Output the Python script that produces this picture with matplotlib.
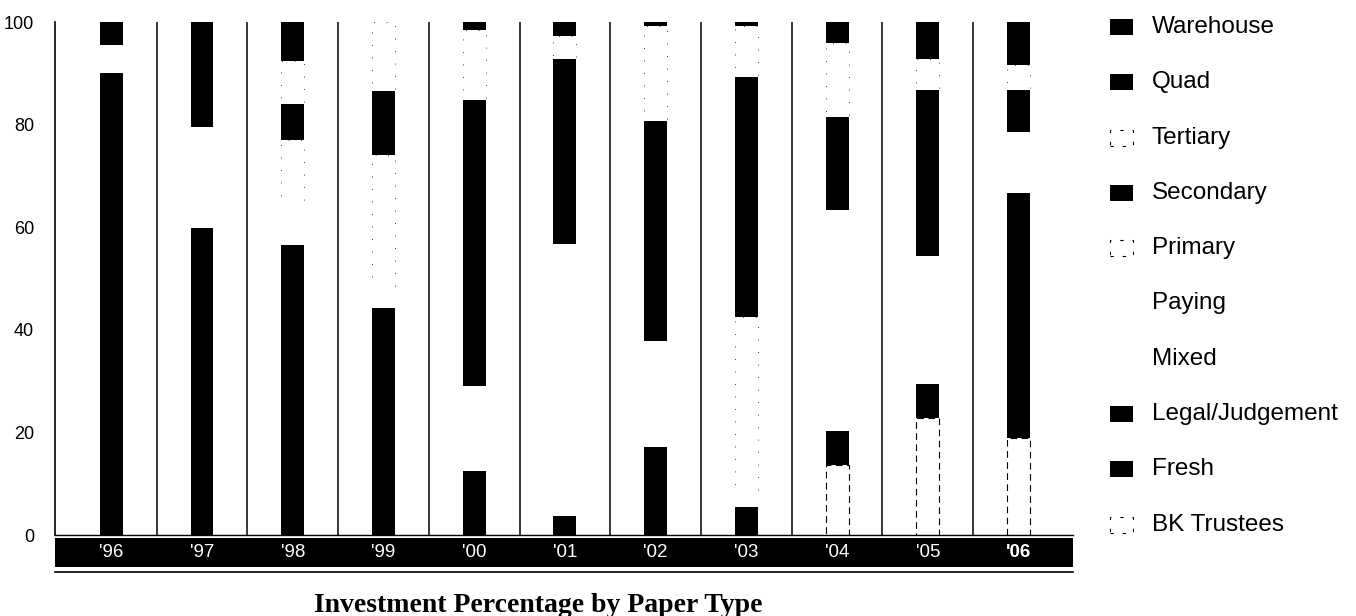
import matplotlib
matplotlib.use("Agg")
import matplotlib.pyplot as plt
from matplotlib.patches import Rectangle
import matplotlib.transforms as mtransforms
import numpy as np

years = ["'96", "'97", "'98", "'99", "'00", "'01", "'02", "'03", "'04", "'05", "'06"]

# stacked bottom -> top
bk_trustees = [0, 0, 0, 0, 0, 0, 0, 0, 13.7, 22.8, 19.0]
fresh       = [90.0, 59.8, 56.6, 44.3, 12.5, 3.7, 17.1, 5.5, 0, 0, 47.7]
legal       = [0, 0, 0, 0, 0, 0, 0, 0, 6.6, 6.6, 0]
mixed       = [0, 19.8, 8.3, 3.9, 16.6, 53.1, 20.8, 2.8, 43.1, 24.9, 11.9]
paying      = [5.5, 0, 0, 0, 0, 0, 0, 0, 0, 0, 0]
primary     = [0, 0, 12.1, 25.8, 0, 0, 0, 34.1, 0, 0, 0]
secondary   = [0, 0, 7.1, 12.5, 55.7, 35.9, 42.8, 46.8, 18.1, 32.5, 8.2]
tertiary    = [0, 0, 8.3, 13.5, 13.6, 4.6, 18.5, 10.0, 14.5, 5.9, 4.8]
quad        = [0, 20.4, 7.6, 0, 0, 2.7, 0, 0, 4.0, 7.3, 0]
warehouse   = [4.5, 0, 0, 0, 1.6, 0, 0.8, 0.8, 0, 0, 8.4]

series_names = ["BK Trustees", "Fresh", "Legal/Judgement", "Mixed", "Paying",
                "Primary", "Secondary", "Tertiary", "Quad", "Warehouse"]
series_vals = [bk_trustees, fresh, legal, mixed, paying,
               primary, secondary, tertiary, quad, warehouse]
# style: 'solid' black, 'blank' white no edge, 'dash' white faint dashed edge
series_style = ["dashbk", "solid", "solid", "blank", "blank",
                "dash", "solid", "dash", "solid", "solid"]

SANS = ["Liberation Sans", "DejaVu Sans"]

fig = plt.figure(figsize=(13.56, 6.16), dpi=100)
W, H = 1356, 616
ax = fig.add_axes([55 / W, (H - 535) / H, 1018 / W, 513 / H])

x = np.arange(len(years))
width = 0.253
bottom = np.zeros(len(years))
for name, vals, st in zip(series_names, series_vals, series_style):
    v = np.array(vals, dtype=float)
    m = v > 0
    if st == "solid":
        ax.bar(x[m], v[m], width, bottom=bottom[m], color="black",
               edgecolor="none", zorder=3)
    elif st == "blank":
        ax.bar(x[m], v[m], width, bottom=bottom[m], color="white",
               edgecolor="none", zorder=3)
    elif st == "dash":
        ax.bar(x[m], v[m], width, bottom=bottom[m], color="white",
               edgecolor="black", linewidth=0.6, linestyle=(0, (1, 14)),
               zorder=2)
    else:
        ax.bar(x[m], v[m], width, bottom=bottom[m], color="white",
               edgecolor="black", linewidth=0.8, linestyle=(0, (6, 4)),
               zorder=2)
    bottom += v

ax.set_xlim(-0.62, 10.6)
ax.set_ylim(0, 100)

# column separators
for i in range(len(years) - 1):
    ax.axvline(i + 0.5, color="black", linewidth=1.1, zorder=1)

for s in ["top", "right", "bottom"]:
    ax.spines[s].set_visible(False)
ax.spines["left"].set_linewidth(1.2)

ax.set_yticks([0, 20, 40, 60, 80, 100])
ax.set_yticklabels(["0", "20", "40", "60", "80", "100"], family=SANS,
                   fontsize=13)
ax.tick_params(axis="y", length=0, pad=15)
ax.set_xticks([])

# baseline, black band and underline
ax.plot([0, 1], [0, 0], transform=ax.transAxes, color="black", lw=1.0,
        clip_on=False)
ax.add_patch(Rectangle((0, -32 / 513), 1, 29 / 513, transform=ax.transAxes,
                       facecolor="black", edgecolor="none", clip_on=False))
ax.plot([0, 1], [-37 / 513, -37 / 513], transform=ax.transAxes,
        color="black", lw=1.2, clip_on=False)
trans = mtransforms.blended_transform_factory(ax.transData, ax.transAxes)
for i, yl in enumerate(years):
    ax.text(i, -17.5 / 513, yl, transform=trans, ha="center", va="center",
            color="white", family=SANS, fontsize=13.5,
            fontweight="bold" if yl == "'06" else "normal")

# legend (top -> bottom)
leg_names = series_names[::-1]
leg_styles = series_style[::-1]
y0 = 27
dy = 55.3
for k, (nm, st) in enumerate(zip(leg_names, leg_styles)):
    yc = y0 + k * dy
    fy = (H - yc) / H
    rx, rw, rh = 1110 / W, 23 / W, 16 / H
    if st == "solid":
        fig.patches.append(Rectangle((rx, fy - rh / 2), rw, rh,
                                     transform=fig.transFigure,
                                     facecolor="black", edgecolor="none"))
    elif st in ("dash", "dashbk"):
        fig.patches.append(Rectangle((rx, fy - rh / 2), rw, rh,
                                     transform=fig.transFigure,
                                     facecolor="white", edgecolor="black",
                                     linewidth=0.8, linestyle=(0, (3, 8))))
    fig.text(1152 / W, fy, nm, ha="left", va="center", family=SANS,
             fontsize=17.5)

fig.text(538 / W, 4 / H, "Investment Percentage by Paper Type",
         ha="center", va="baseline", family=["Liberation Serif", "DejaVu Serif"],
         fontweight="bold", fontsize=20)

fig.savefig("out.png", dpi=100, facecolor="white")
